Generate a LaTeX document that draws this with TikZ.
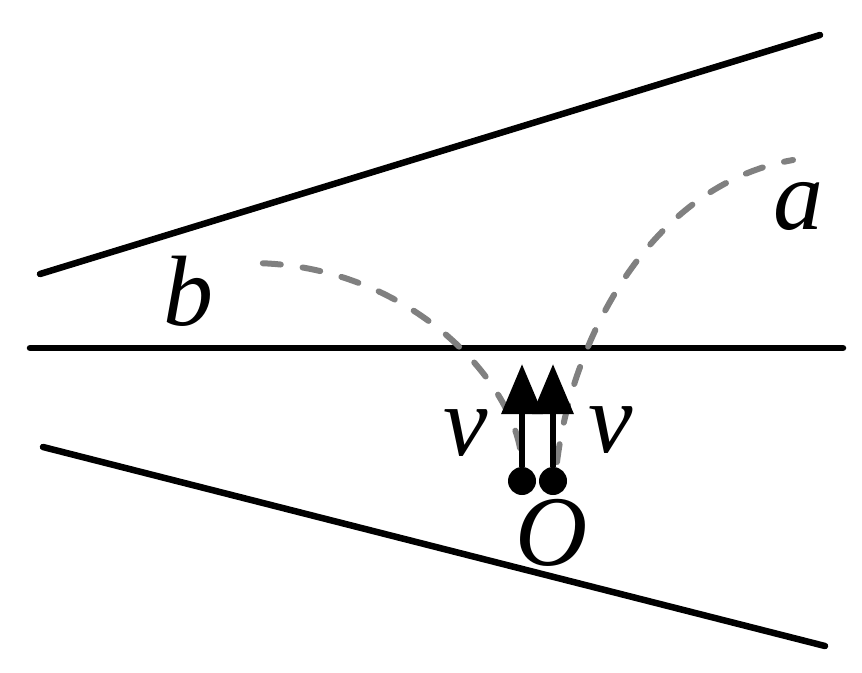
\documentclass[tikz,border=0pt]{standalone}
\usepackage{fontspec}
\setmainfont{Liberation Serif}
\usetikzlibrary{arrows.meta}
\tikzset{%
  wall/.style={line width=6.5pt,line cap=round},
  track/.style={line width=6pt,draw=gray,line cap=round,
    dash pattern=on 18pt off 22pt},
  particle/.style={circle,inner sep=0pt,minimum size=28pt,fill=black},
  speed/.style={line width=6.5pt,-{Triangle[length=50pt,width=40pt]}},
  letter/.style={inner sep=0pt,font=\fontsize{100}{100}\selectfont\itshape}
}

\begin{document}
\begin{tikzpicture}[x=1pt,y=-1pt]
    \useasboundingbox (0,0) rectangle (862,672);
    % the three field boundaries
    \draw[wall] (40,274) -- (820,35);
    \draw[wall] (30,348) -- (843,348);
    \draw[wall] (43,447) -- (825,646);
    %
    \coordinate (b0) at (520,448);
    \coordinate (b1) at (250,263);
    \draw[track] (b0) .. controls (505,370) and (400,263) .. (b1);
    \coordinate (a0) at (557,462);
    \coordinate (a1) at (793,160);
    \draw[track] (a0) .. controls (572,340) and (650,185) .. (a1);
    %
    \node[particle] (pb) at (522,481) {};
    \node[particle] (pa) at (553,481) {};
    \coordinate (tb) at (522,364);
    \coordinate (ta) at (553,364);
    \draw[speed] (pb) -- (tb);
    \draw[speed] (pa) -- (ta);
    %
    \node[letter] (lb) at (188,291) {b};
    \node[letter] (la) at (798,206) {a};
    \node[letter] (vb) at (466,433) {v};
    \node[letter] (va) at (611,430) {v};
    \node[letter] (lo) at (552,533) {O};
  \end{tikzpicture}
\end{document}
